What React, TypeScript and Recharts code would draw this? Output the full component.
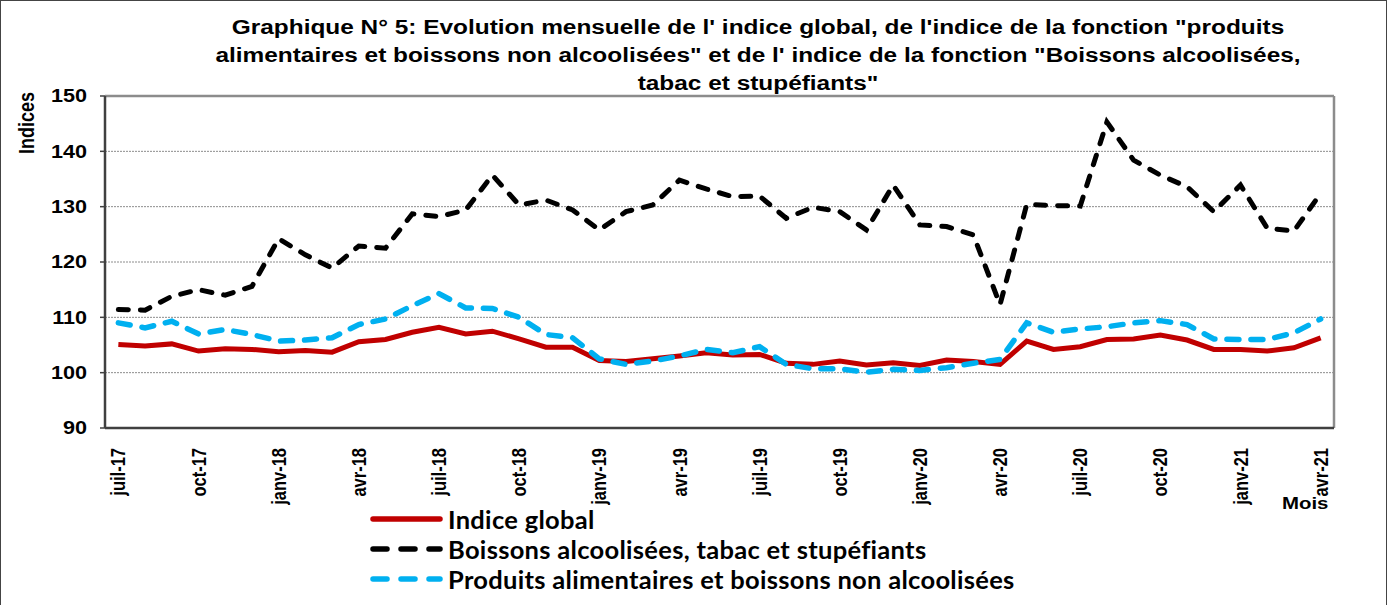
import { LineChart, Line, XAxis, YAxis, CartesianGrid, ReferenceLine } from 'recharts';

const MONTH_NAMES = ['janv', 'févr', 'mars', 'avr', 'mai', 'juin', 'juil', 'août', 'sept', 'oct', 'nov', 'déc'];

// juil-17 .. avr-21
const MONTHS: string[] = [];
for (let k = 0; k < 46; k++) {
  const m = (6 + k) % 12;
  const y = 17 + Math.floor((6 + k) / 12);
  MONTHS.push(`${MONTH_NAMES[m]}-${y}`);
}

const INDICE_GLOBAL = [
  105.1, 104.8, 105.2, 103.9, 104.3, 104.2, 103.8, 104.0, 103.7, 105.6, 106.0, 107.3, 108.2, 107.0, 107.5,
  106.1, 104.6, 104.6, 102.2, 102.0, 102.5, 103.0, 103.6, 103.2, 103.3, 101.7, 101.5, 102.1, 101.4, 101.8,
  101.3, 102.3, 102.0, 101.5, 105.7, 104.2, 104.7, 106.0, 106.1, 106.8, 105.9, 104.2, 104.2, 103.9, 104.5, 106.3,
];

const BOISSONS_ALCOOL = [
  111.4, 111.3, 113.8, 115.0, 114.0, 115.6, 124.2, 121.3, 118.9, 122.9, 122.5, 128.7, 128.2, 129.4, 135.7,
  130.3, 131.2, 129.4, 125.8, 129.1, 130.3, 134.8, 133.2, 131.8, 131.9, 127.9, 129.9, 129.1, 125.8, 133.9,
  126.7, 126.4, 124.9, 112.3, 130.4, 130.2, 130.1, 145.3, 138.4, 135.7, 133.6, 129.1, 133.9, 126.1, 125.6, 132.4,
];

const PRODUITS_ALIM = [
  109.0, 108.1, 109.3, 107.0, 107.8, 106.9, 105.7, 105.9, 106.3, 108.7, 109.7, 112.1, 114.3, 111.7, 111.6,
  110.0, 106.9, 106.3, 102.5, 101.5, 102.1, 103.0, 104.2, 103.6, 104.7, 101.5, 100.7, 100.7, 100.1, 100.6,
  100.4, 100.9, 101.7, 102.4, 109.0, 107.3, 107.9, 108.3, 109.0, 109.4, 108.7, 106.1, 106.0, 106.0, 107.2, 109.7,
];

const Y_TICKS = [90, 100, 110, 120, 130, 140, 150];

const TITLE_LINES = [
  'Graphique N° 5: Evolution mensuelle de l\' indice global, de l\'indice de la fonction "produits',
  'alimentaires et boissons non alcoolisées" et de l\' indice de la fonction "Boissons alcoolisées,',
  'tabac et stupéfiants"',
];

const SERIES = [
  { key: 'global', name: 'Indice global', color: '#C00000', dash: undefined as string | undefined },
  { key: 'alcool', name: 'Boissons alcoolisées, tabac et stupéfiants', color: '#000000', dash: '10 12' },
  { key: 'alim', name: 'Produits alimentaires et boissons non alcoolisées', color: '#00B0F0', dash: '12 12' },
];

const data = MONTHS.map((m, i) => ({
  x: i,
  month: m,
  global: INDICE_GLOBAL[i],
  alcool: BOISSONS_ALCOOL[i],
  alim: PRODUITS_ALIM[i],
}));

const LABEL_TICKS = MONTHS.map((_m, i) => i).filter((i) => i % 3 === 0);
const BOUNDARY_TICKS = [...MONTHS.map((_m, i) => i - 0.5), MONTHS.length - 0.5];

const FONT = '"Liberation Sans", Arial, sans-serif';
const STRETCH = 1.2;

function MonthTick({ x, y, payload }: any) {
  return (
    <g transform={`translate(${x},${y}) scale(${STRETCH},1)`}>
      <text
        transform="rotate(-90)"
        x={-12}
        y={0}
        dy="0.36em"
        textAnchor="end"
        fontFamily={FONT}
        fontWeight="bold"
        fontSize={16.5}
        fill="#000"
      >
        {MONTHS[payload.value]}
      </text>
    </g>
  );
}

function ValueTick({ x, y, payload }: any) {
  return (
    <g transform={`translate(${x},${y}) scale(${STRETCH},1)`}>
      <text x={0} y={0} dy="0.36em" textAnchor="end" fontFamily={FONT} fontWeight="bold" fontSize={18} fill="#000">
        {payload.value}
      </text>
    </g>
  );
}

function ChartLegend() {
  return (
    <div style={{ position: 'absolute', left: 368, top: 504 }}>
      {SERIES.map((s) => (
        <div key={s.key} style={{ display: 'flex', alignItems: 'center', height: 30 }}>
          <svg width={80} height={12}>
            <line
              x1={5}
              x2={72}
              y1={6}
              y2={6}
              stroke={s.color}
              strokeWidth={5.5}
              strokeLinecap="round"
              strokeDasharray={s.dash ? '14 14' : undefined}
            />
          </svg>
          <span
            style={{
              fontFamily: 'Lato, "Open Sans", sans-serif',
              fontWeight: 'bold',
              fontSize: 25.5,
              letterSpacing: '0.3px',
              lineHeight: '30px',
              color: '#000',
            }}
          >
            {s.name}
          </span>
        </div>
      ))}
    </div>
  );
}

export default function App() {
  return (
    <div style={{ position: 'absolute', left: 0, top: 0, width: 1387, height: 605, background: '#fff', overflow: 'hidden' }}>
      <div
        style={{
          position: 'absolute',
          left: 0,
          top: 0,
          width: 1385,
          height: 610,
          border: '1px solid #444',
          pointerEvents: 'none',
        }}
      />
      <div
        style={{
          position: 'absolute',
          left: 158,
          width: 1200,
          top: 13,
          textAlign: 'center',
          fontFamily: FONT,
          fontWeight: 'bold',
          fontSize: 20,
          lineHeight: '28px',
          color: '#000',
          transform: 'scaleX(1.22)',
          transformOrigin: '600px 0',
          whiteSpace: 'nowrap',
        }}
      >
        {TITLE_LINES.map((l) => (
          <div key={l}>{l}</div>
        ))}
      </div>
      <div
        style={{
          position: 'absolute',
          left: 27,
          top: 123,
          transform: `translate(-50%, -50%) scale(${STRETCH},1) rotate(-90deg)`,
          fontFamily: FONT,
          fontWeight: 'bold',
          fontSize: 18,
          color: '#000',
          whiteSpace: 'nowrap',
        }}
      >
        Indices
      </div>
      <div
        style={{
          position: 'absolute',
          left: 1282,
          top: 494,
          fontFamily: FONT,
          fontWeight: 'bold',
          fontSize: 17,
          color: '#000',
          transform: `scaleX(${STRETCH})`,
          transformOrigin: '0 0',
        }}
      >
        Mois
      </div>
      <LineChart
        width={1387}
        height={605}
        data={data}
        margin={{ top: 96, right: 53, left: 45, bottom: 97 }}
        style={{ position: 'absolute', left: 0, top: 0 }}
      >
        <CartesianGrid horizontal vertical={false} stroke="#8c8c8c" strokeDasharray="2 1" />
        <XAxis
          xAxisId="bounds"
          dataKey="x"
          type="number"
          domain={[-0.5, MONTHS.length - 0.5]}
          ticks={BOUNDARY_TICKS}
          tick={false}
          tickSize={6}
          tickLine={{ stroke: '#404040', strokeWidth: 1.5 }}
          axisLine={false}
          height={0}
          allowDataOverflow
        />
        <XAxis
          dataKey="x"
          type="number"
          domain={[-0.5, MONTHS.length - 0.5]}
          ticks={LABEL_TICKS}
          interval={0}
          tick={<MonthTick />}
          tickLine={false}
          axisLine={{ stroke: '#404040', strokeWidth: 2.5 }}
          height={80}
          allowDataOverflow
        />
        <YAxis
          domain={[90, 150]}
          ticks={Y_TICKS}
          interval={0}
          width={60}
          tickSize={5}
          tickMargin={13}
          tickLine={{ stroke: '#404040', strokeWidth: 1.5 }}
          axisLine={{ stroke: '#404040', strokeWidth: 2.5 }}
          tick={<ValueTick />}
        />
        <ReferenceLine y={150} stroke="#8c8c8c" strokeWidth={2.5} />
        <ReferenceLine x={MONTHS.length - 0.5} stroke="#8c8c8c" strokeWidth={2.5} />
        <Line
          dataKey="global"
          name={SERIES[0].name}
          stroke={SERIES[0].color}
          strokeWidth={5}
          dot={false}
          isAnimationActive={false}
        />
        <Line
          dataKey="alcool"
          name={SERIES[1].name}
          stroke={SERIES[1].color}
          strokeWidth={5}
          strokeDasharray={SERIES[1].dash}
          strokeLinecap="round"
          dot={false}
          isAnimationActive={false}
        />
        <Line
          dataKey="alim"
          name={SERIES[2].name}
          stroke={SERIES[2].color}
          strokeWidth={5.5}
          strokeDasharray={SERIES[2].dash}
          strokeLinecap="round"
          dot={false}
          isAnimationActive={false}
        />
      </LineChart>
      <ChartLegend />
    </div>
  );
}
